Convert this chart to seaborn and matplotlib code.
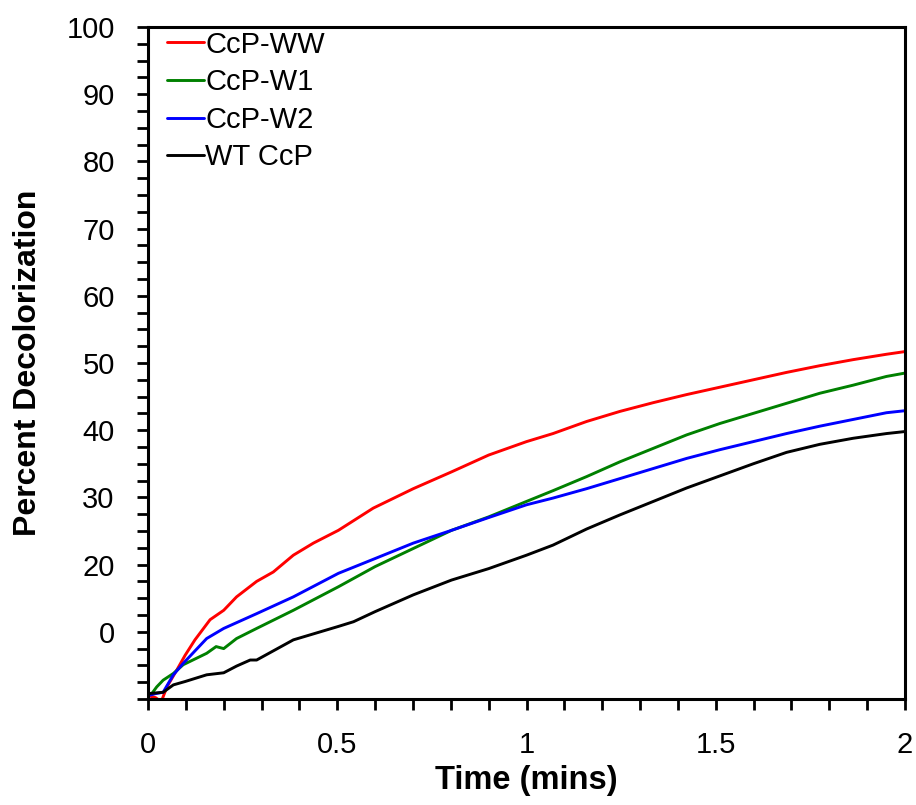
import matplotlib
matplotlib.use("Agg")
import matplotlib.pyplot as plt
import seaborn as sns
import pandas as pd
import numpy as np
from matplotlib.ticker import MultipleLocator, FixedLocator

# ---- data ----
t_ww = [0.0, 0.02, 0.035, 0.05, 0.076, 0.098, 0.124, 0.164, 0.2, 0.234, 0.287, 0.331, 0.384, 0.437,
        0.503, 0.595, 0.701, 0.802, 0.9, 1.0, 1.07, 1.159, 1.247, 1.335, 1.423, 1.511, 1.599,
        1.687, 1.775, 1.863, 1.951, 2.0]
v_ww = [0.5, 0.2, -0.4, 1.8, 4.3, 6.5, 8.8, 11.8, 13.2, 15.2, 17.5, 18.9, 21.4, 23.2,
        25.1, 28.4, 31.3, 33.8, 36.3, 38.3, 39.5, 41.3, 42.8, 44.1, 45.3, 46.4, 47.5,
        48.6, 49.6, 50.5, 51.3, 51.7]

t_w1 = [0.0, 0.01, 0.023, 0.04, 0.067, 0.093, 0.155, 0.18, 0.2, 0.234, 0.287, 0.384, 0.503,
        0.6, 0.701, 0.802, 0.9, 1.0, 1.07, 1.159, 1.247, 1.335, 1.423, 1.511, 1.599, 1.687,
        1.775, 1.863, 1.951, 2.0]
v_w1 = [0.5, 0.8, 1.8, 2.8, 3.8, 5.1, 6.8, 7.8, 7.5, 9.0, 10.5, 13.2, 16.7,
        19.7, 22.4, 25.1, 27.1, 29.4, 31.0, 33.1, 35.3, 37.3, 39.3, 41.0, 42.5, 44.0,
        45.5, 46.7, 48.0, 48.5]

t_w2 = [0.0, 0.02, 0.04, 0.067, 0.093, 0.155, 0.2, 0.287, 0.384, 0.503, 0.6, 0.701, 0.802,
        0.9, 1.0, 1.07, 1.159, 1.247, 1.335, 1.423, 1.511, 1.599, 1.687, 1.775, 1.863,
        1.951, 2.0]
v_w2 = [0.5, 0.8, 1.0, 3.6, 5.3, 9.0, 10.5, 12.7, 15.2, 18.7, 20.9, 23.2, 25.1,
        27.0, 28.9, 29.9, 31.3, 32.8, 34.3, 35.8, 37.1, 38.3, 39.5, 40.6, 41.6,
        42.6, 42.9]

t_wt = [0.0, 0.02, 0.04, 0.067, 0.098, 0.155, 0.2, 0.234, 0.27, 0.287, 0.384, 0.503, 0.543,
        0.6, 0.701, 0.802, 0.9, 1.0, 1.07, 1.159, 1.247, 1.335, 1.423, 1.511, 1.599, 1.687,
        1.775, 1.863, 1.951, 2.0]
v_wt = [0.8, 0.9, 1.0, 2.1, 2.6, 3.6, 3.9, 4.9, 5.8, 5.8, 8.8, 10.8, 11.5,
        13.0, 15.5, 17.7, 19.4, 21.4, 22.9, 25.3, 27.4, 29.4, 31.4, 33.2, 35.0, 36.7,
        37.9, 38.8, 39.5, 39.8]

series = ["CcP-WW", "CcP-W1", "CcP-W2", "WT CcP"]
colors = ["#ff0000", "#008000", "#0000ff", "#000000"]

x_ticks = [0, 0.5, 1, 1.5, 2]
x_labels = ["0", "0.5", "1", "1.5", "2"]
y_ticks = [10, 20, 30, 40, 50, 60, 70, 80, 90, 100]
y_labels = ["0", "20", "30", "40", "50", "60", "70", "80", "90", "100"]

frames = []
for name, t, v in zip(series, [t_ww, t_w1, t_w2, t_wt], [v_ww, v_w1, v_w2, v_wt]):
    frames.append(pd.DataFrame({"Time": t, "Value": v, "Series": name}))
df = pd.concat(frames, ignore_index=True)

sns.set_style("ticks")
plt.rcParams["font.family"] = ["Liberation Sans", "DejaVu Sans"]
plt.rcParams["text.color"] = "black"
plt.rcParams["axes.labelcolor"] = "black"
plt.rcParams["xtick.color"] = "black"
plt.rcParams["ytick.color"] = "black"
plt.rcParams["axes.edgecolor"] = "black"

fig = plt.figure(figsize=(9.16, 8.05), dpi=100)
ax = fig.add_axes([148/916, 1-699/805, (905-148)/916, (699-27)/805])

sns.lineplot(data=df, x="Time", y="Value", hue="Series", hue_order=series,
             palette=colors, linewidth=2.1, ax=ax, sort=False, estimator=None)

ax.set_xlim(0, 2)
ax.set_ylim(0, 100)
ax.xaxis.set_major_locator(FixedLocator(x_ticks))
ax.set_xticklabels(x_labels)
ax.xaxis.set_minor_locator(MultipleLocator(0.1))
ax.yaxis.set_major_locator(FixedLocator(y_ticks))
ax.set_yticklabels(y_labels)
ax.yaxis.set_minor_locator(MultipleLocator(2.5))

ax.tick_params(axis="both", which="both", direction="out", length=8, width=2,
               labelsize=21, color="black", labelcolor="black")
ax.tick_params(axis="y", pad=16)
ax.tick_params(axis="x", pad=15)
for sp in ax.spines.values():
    sp.set_visible(True)
    sp.set_linewidth(2.2)
    sp.set_color("black")

ax.set_xlabel("Time (mins)", fontsize=23.5, fontweight="bold", labelpad=4)
ax.set_ylabel("Percent Decolorization", fontsize=23, fontweight="bold", labelpad=17)

leg = ax.legend(loc="upper left", bbox_to_anchor=(0.01, 1.012), frameon=False,
                fontsize=21, handlelength=1.25, handletextpad=0.06,
                labelspacing=0.33, borderaxespad=0.0)
for line in leg.get_lines():
    line.set_linewidth(2.1)

fig.savefig("out.png", dpi=100)
